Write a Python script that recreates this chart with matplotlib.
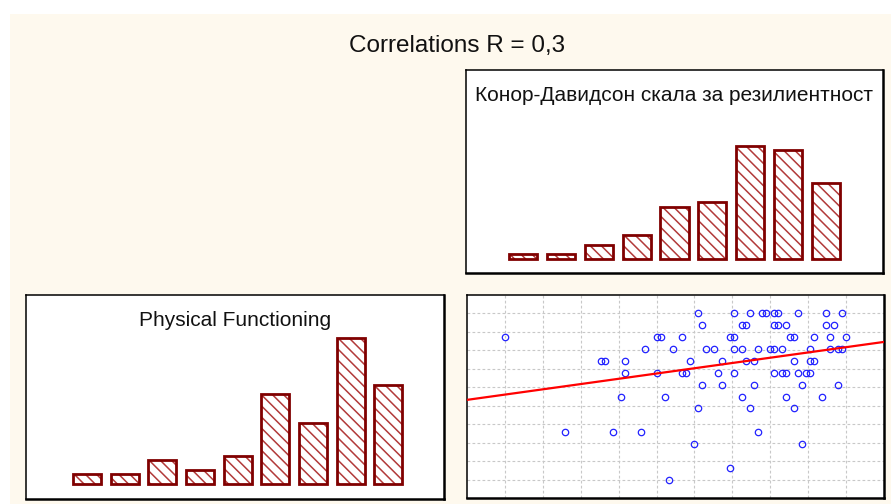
import matplotlib
matplotlib.use('Agg')
import matplotlib.pyplot as plt
import numpy as np
from matplotlib.patches import Rectangle

plt.rcParams['font.family'] = ['Liberation Sans', 'DejaVu Sans']
plt.rcParams['hatch.linewidth'] = 1.1

# histogram counts (9 bins between min and max of each scale)
cd_counts = [1, 1, 3, 5, 11, 12, 24, 23, 16]
pf_counts = [2, 2, 5, 3, 6, 19, 13, 31, 21]
cd_range = (15, 100)
pf_range = (30, 100)

# scatter: CD-RISC scores grouped by their Physical Functioning value
pf_levels = [100, 95, 90, 85, 80, 75, 70, 65, 60, 50, 45, 35, 30]
cd_by_level = [
    [63, 72, 76, 79, 80, 82, 83, 88, 95, 99],
    [64, 74, 75, 82, 83, 85, 95, 97],
    [15, 53, 54, 59, 71, 72, 86, 87, 92, 96, 100],
    [50, 57, 65, 67, 72, 74, 78, 81, 82, 84, 91, 96, 98, 99],
    [39, 40, 45, 61, 69, 75, 77, 87, 91, 92],
    [45, 53, 59, 60, 68, 72, 82, 84, 85, 88, 90, 91],
    [64, 69, 77, 89, 98],
    [44, 55, 74, 85, 94],
    [63, 76, 87],
    [30, 42, 49, 78],
    [62, 89],
    [71],
    [56],
]

title = 'Correlations R = 0,3'
cd_title = 'Конор-Давидсон скала за резилиентност'
pf_title = 'Physical Functioning'

W, H = 891, 504
BAR_EDGE = '#800000'
HATCH_COL = '#b23a3a'
CREAM = '#fef9ee'


def px_axes(fig, left, top, right, bottom):
    return fig.add_axes([left / W, 1 - bottom / H, (right - left) / W, (bottom - top) / H])


def frame(ax):
    ax.set_xticks([])
    ax.set_yticks([])
    ax.set_facecolor('white')
    for side, sp in ax.spines.items():
        sp.set_color('black')
        sp.set_linewidth(1.8 if side in ('right', 'bottom') else 1.1)


def hist_panel(ax, counts, lo, hi, pad_left, pad_right):
    bw = (hi - lo) / len(counts)
    centers = [lo + (i + 0.5) * bw for i in range(len(counts))]
    ax.bar(centers, counts, width=0.74 * bw, color='white', edgecolor=HATCH_COL,
           hatch='\\\\\\', linewidth=0)
    ax.bar(centers, counts, width=0.74 * bw, fill=False, edgecolor=BAR_EDGE, linewidth=2.0)
    ax.set_xlim(lo - pad_left * bw, hi + pad_right * bw)
    frame(ax)


fig = plt.figure(figsize=(W / 100, H / 100), dpi=100)
fig.patch.set_facecolor('white')
fig.add_artist(Rectangle((10 / W, 0), 1, 1 - 14 / H, transform=fig.transFigure,
                         facecolor=CREAM, edgecolor='none', zorder=-10))

fig.text(457 / W, 1 - 51.7 / H, title, ha='center', va='baseline', fontsize=17.5,
         color='#111111')

# CD-RISC histogram (top right)
ax_top = px_axes(fig, 466, 70, 883, 273)
hist_panel(ax_top, cd_counts, *cd_range, 1.0, 1.0)
ax_top.set_ylim(-3, 40)
ax_top.text(0.5, 1 - 30.7 / 203, cd_title, transform=ax_top.transAxes,
            ha='center', va='baseline', fontsize=15, color='#111111')

# Physical Functioning histogram (bottom left)
ax_left = px_axes(fig, 26, 295, 444, 499)
hist_panel(ax_left, pf_counts, *pf_range, 1.12, 0.98)
ax_left.set_ylim(-3.2, 40)
ax_left.text(0.5, 1 - 31 / 204, pf_title, transform=ax_left.transAxes,
             ha='center', va='baseline', fontsize=15, color='#111111')

# scatter with linear fit (bottom right)
cd = np.array([x for row in cd_by_level for x in row])
pf = np.array([lvl for lvl, row in zip(pf_levels, cd_by_level) for _ in row])

ax_sc = px_axes(fig, 467, 295, 884, 498)
bwx = (cd_range[1] - cd_range[0]) / 9
bwy = (pf_range[1] - pf_range[0]) / 9
ax_sc.set_xlim(cd_range[0] - bwx, cd_range[1] + bwx)
ax_sc.set_ylim(pf_range[0] - bwy, pf_range[1] + bwy)
for k in range(10):
    ax_sc.axvline(cd_range[0] + k * bwx, color='#c8c8c8', lw=0.8, ls=(0, (2.5, 2)), zorder=0)
    ax_sc.axhline(pf_range[0] + k * bwy, color='#c8c8c8', lw=0.8, ls=(0, (2.5, 2)), zorder=0)

ax_sc.plot(cd, pf, 'o', ls='none', ms=4.6, mfc='none', mec='#2222ff', mew=0.9, zorder=2)

slope, intercept = np.polyfit(cd, pf, 1)
xs = np.array(ax_sc.get_xlim())
ax_sc.plot(xs, intercept + slope * xs, color='#ff0000', lw=1.6, zorder=3)
ax_sc.set_xlim(xs)
frame(ax_sc)

fig.savefig('out.png', dpi=100)
